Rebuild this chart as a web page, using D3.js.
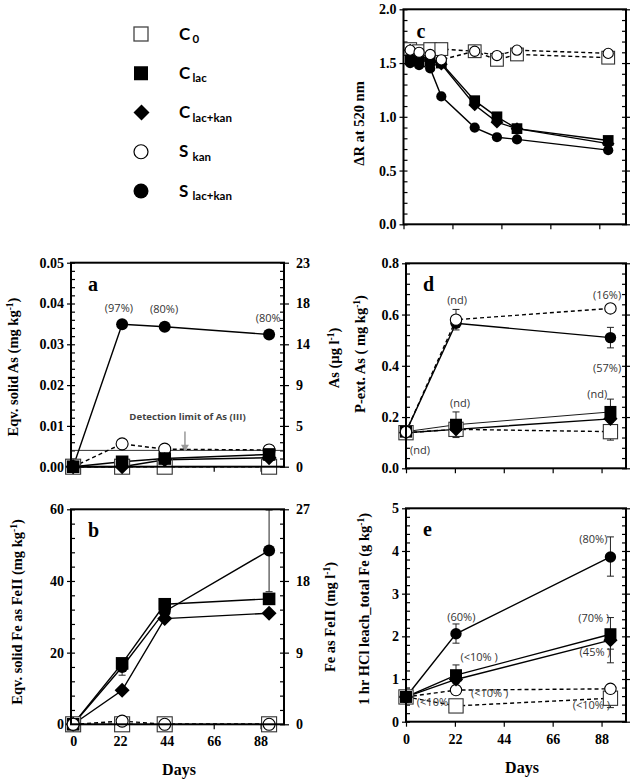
<!DOCTYPE html>
<html><head><meta charset="utf-8">
<script src="https://cdn.jsdelivr.net/npm/d3@7"></script>
<style>body{margin:0;background:#fff} svg{display:block}</style>
</head><body><svg id="chart" width="634" height="783"></svg>
<script>
// ---------------- DATA ----------------
const seriesKeys = ["C0","Clac","Clackan","Skan","Slackan"];
const legendMain = ["C","C","C","S","S"];
const legendSub  = ["0","lac","lac+kan","kan","lac+kan"];

// panel a : solid-phase As (mg/kg)
const daysAB = [0, 23, 43, 92];
const aC0      = [0, 0, 0, 0];
const aClac    = [0, 0.0012, 0.0020, 0.0030];
const aClackan = [0, 0.0000, 0.0017, 0.0022];
const aSkan    = [0, 0.0056, 0.0043, 0.0041];
const aSlackan = [0, 0.0349, 0.0343, 0.0324];
const aDetectionLimit = 0.004;
const aRightTicks = [0, 4.6, 9.2, 13.8, 18.4, 23];

// panel b : solid Fe as FeII (mg/kg)
const bC0      = [0, 0, 0, 0];
const bClac    = [0, 17.0, 33.5, 35.0];
const bClackan = [0, 9.5, 29.5, 31.0];
const bSkan    = [0, 0.9, 0, 0];
const bSlackan = [0, 16.0, 31.5, 48.5];
const bRightTicks = [0, 9, 18, 27];
const bErrors = [["Slackan", 1, 13.7, 18.2], ["Slackan", 3, 37.0, 59.8]];

// panel c : deltaR at 520 nm
const daysC = [3, 7, 12, 17, 32, 42, 51, 92];
const cC0      = [1.63, 1.61, 1.63, 1.63, 1.61, 1.53, 1.58, 1.55];
const cClac    = [1.53, 1.52, 1.52, 1.50, 1.15, 1.00, 0.89, 0.78];
const cClackan = [1.62, 1.55, 1.52, 1.49, 1.11, 0.95, 0.89, 0.75];
const cSkan    = [1.62, 1.60, 1.58, 1.53, 1.61, 1.57, 1.62, 1.59];
const cSlackan = [1.50, 1.48, 1.45, 1.19, 0.90, 0.81, 0.79, 0.69];
const cErrors = [["C0", 3, 1.58, 1.66], ["C0", 5, 1.48, 1.57]];

// panel d : P-extractable As (mg/kg)
const daysDE = [0, 22.5, 92];
const dC0      = [0.139, 0.152, 0.143];
const dClac    = [0.143, 0.170, 0.220];
const dClackan = [0.139, 0.152, 0.193];
const dSkan    = [0.142, 0.580, 0.624];
const dSlackan = [0.142, 0.566, 0.510];
const dErrors = [["Skan",1,0.54,0.62],["Slackan",2,0.47,0.55],["Clac",1,0.12,0.22],["Clac",2,0.17,0.27],["C0",2,0.11,0.18]];

// panel e : 1 hr HCl leach total Fe (g/kg)
const eC0      = [0.58, 0.37, 0.55];
const eClac    = [0.58, 1.09, 2.05];
const eClackan = [0.58, 0.99, 1.91];
const eSkan    = [0.58, 0.74, 0.77];
const eSlackan = [0.58, 2.06, 3.86];
const eErrors = [["Slackan",1,1.84,2.29],["Slackan",2,3.41,4.33],["Clac",1,0.9,1.33],["Clac",2,1.7,2.44],["Clackan",2,1.38,1.95],["C0",2,0.33,0.55]];

const xTickValues = [0, 22, 44, 66, 88];

// annotations: text, day, value (baseline centre)
const aNotes = [["(97%)",21.5,0.0379],["(80%)",42.7,0.0377],["(80%",91.6,0.0355]];
const dNotes = [["(nd)",23,0.641],["(16%)",90.5,0.661],["(57%)",90.5,0.376],["(nd)",24.3,0.239],["(nd)",86.1,0.274],["(nd)",6.3,0.054]];
const eNotes = [["(80%)",84.3,4.19],["(60%)",24.9,2.37],["(70% )",84.5,2.34],["(<10% )",32.9,1.43],["(45% )",85.1,1.55],["(<10% )",37.6,0.58],["(<10%",11.9,0.36],["(<10% )",83.4,0.30]];

// ---------------- BUILD ----------------
const svg = d3.select("#chart");
const serifFont = "'Liberation Serif','Times New Roman',serif";
const sansFont = "'Open Sans','Noto Sans',sans-serif";

function mk(vals){ const o={}; seriesKeys.forEach((k,i)=>o[k]=vals[i]); return o; }

const panels = [
 {id:"a", x0:71, x1:284, y0:262.7, y1:466.7, xdom:[-1,99], ydom:[0,0.05], major:0.01, minor:0.002, fmt:".2f",
  days:daysAB, data:mk([aC0,aClac,aClackan,aSkan,aSlackan]), errors:[], notes:aNotes, xlab:false,
  order:["C0","Skan","Slackan","Clackan","Clac"], right:{dom:[0,23], ticks:aRightTicks}, ms:1,
  title:["Eqv. solid As (mg kg","-1",")"], tx:13, ty:367, rtitle:["As (\u00b5g l","-1",")"], rtx:334, rty:358},
 {id:"b", x0:71, x1:284, y0:509.3, y1:724.3, xdom:[-1,99], ydom:[0,60], major:20, minor:4, fmt:"d",
  days:daysAB, data:mk([bC0,bClac,bClackan,bSkan,bSlackan]), errors:bErrors, notes:[], xlab:true,
  order:["C0","Clac","Clackan","Slackan","Skan"], right:{dom:[0,27], ticks:bRightTicks}, ms:1,
  title:["Eqv. solid Fe as FeII (mg kg","-1",")"], tx:17, ty:612, rtitle:["Fe as FeII (mg l","-1",")"], rtx:330, rty:617,
  daysX:179},
 {id:"c", x0:403.5, x1:626, y0:9.3, y1:224.3, xdom:[0,100], ydom:[0,2], major:0.5, minor:0.1, fmt:".1f",
  days:daysC, data:mk([cC0,cClac,cClackan,cSkan,cSlackan]), errors:cErrors, notes:[], xlab:false,
  order:["C0","Clac","Clackan","Slackan","Skan"], ms:0.85,
  title:["\u0394R at 520 nm"], tx:358.5, ty:123.5},
 {id:"d", x0:406, x1:626, y0:263.3, y1:468.3, xdom:[0,99], ydom:[0,0.8], major:0.2, minor:0.04, fmt:".1f",
  days:daysDE, data:mk([dC0,dClac,dClackan,dSkan,dSlackan]), errors:dErrors, notes:dNotes, xlab:false,
  order:["C0","Clac","Clackan","Slackan","Skan"], ms:0.95, thin:"Clac",
  title:["P-ext. As ( mg kg","-1",")"], tx:360, ty:354},
 {id:"e", x0:406, x1:626, y0:508.3, y1:721.7, xdom:[0,99], ydom:[0,5], major:1, minor:0.2, fmt:"d",
  days:daysDE, data:mk([eC0,eClac,eClackan,eSkan,eSlackan]), errors:eErrors, notes:eNotes, xlab:true,
  order:["C0","Skan","Slackan","Clackan","Clac"], ms:0.95,
  title:["1 hr HCl leach_total Fe (g kg","-1",")"], tx:363.5, ty:609, daysX:522}
];

function drawMarker(g, key, cx, cy, s){
  if(key==="C0"){
    const h=7.5*s; g.append("rect").attr("x",cx-h).attr("y",cy-h).attr("width",2*h).attr("height",2*h)
      .attr("fill","#fff").attr("stroke","#333").attr("stroke-width",1.1);
  } else if(key==="Clac"){
    const h=6.3*s; g.append("rect").attr("x",cx-h).attr("y",cy-h).attr("width",2*h).attr("height",2*h).attr("fill","#000");
  } else if(key==="Clackan"){
    const h=7.5*s; g.append("path").attr("d",`M${cx},${cy-h}L${cx+h},${cy}L${cx},${cy+h}L${cx-h},${cy}Z`).attr("fill","#000");
  } else if(key==="Skan"){
    g.append("circle").attr("cx",cx).attr("cy",cy).attr("r",6*s).attr("fill","#fff").attr("stroke","#000").attr("stroke-width",1.1);
  } else {
    g.append("circle").attr("cx",cx).attr("cy",cy).attr("r",6*s).attr("fill","#000");
  }
}

function rotTitle(parts, cx, cy){
  const t = svg.append("text").attr("transform",`translate(${cx},${cy}) rotate(-90)`)
    .attr("text-anchor","middle").attr("dy","0.35em")
    .attr("font-family",serifFont).attr("font-weight","bold").attr("font-size",14.5);
  t.append("tspan").text(parts[0]);
  if(parts.length>1){
    t.append("tspan").attr("dy",-5).attr("font-size",9.5).text(parts[1]);
    t.append("tspan").attr("dy",5).text(parts[2]);
  }
}

function styleAxis(g){
  g.select(".domain").remove();
  g.selectAll(".tick line").attr("stroke","#000").attr("stroke-width",1.2);
  g.selectAll(".tick text").attr("font-family",serifFont).attr("font-weight","bold").attr("font-size",14).attr("fill","#000");
}

panels.forEach(p=>{
  const x = d3.scaleLinear().domain(p.xdom).range([p.x0,p.x1]);
  const y = d3.scaleLinear().domain(p.ydom).range([p.y1,p.y0]);
  const majors = d3.range(p.ydom[0], p.ydom[1]+p.major/2, p.major);
  const minors = d3.range(p.ydom[0], p.ydom[1]+p.minor/2, p.minor);
  const g = svg.append("g");

  // left axis: outward majors with labels, inward all ticks
  const la = g.append("g").attr("transform",`translate(${p.x0},0)`)
    .call(d3.axisLeft(y).tickValues(majors).tickSize(4).tickPadding(3).tickFormat(d3.format(p.fmt)));
  styleAxis(la);
  styleAxis(g.append("g").attr("transform",`translate(${p.x0},0)`)
    .call(d3.axisLeft(y).tickValues(minors).tickSize(-4).tickFormat("")));
  // right axis
  styleAxis(g.append("g").attr("transform",`translate(${p.x1},0)`)
    .call(d3.axisRight(y).tickValues(minors).tickSize(-4).tickFormat("")));
  if(p.right){
    const yr = d3.scaleLinear().domain(p.right.dom).range([p.y1,p.y0]);
    styleAxis(g.append("g").attr("transform",`translate(${p.x1},0)`)
      .call(d3.axisRight(yr).tickValues(p.right.ticks).tickSize(5).tickPadding(7).tickFormat(d=>Math.round(d))));
    rotTitle(p.rtitle, p.rtx, p.rty);
  } else {
    styleAxis(g.append("g").attr("transform",`translate(${p.x1},0)`)
      .call(d3.axisRight(y).tickValues(majors).tickSize(4).tickFormat("")));
  }
  // bottom axis
  const ba = g.append("g").attr("transform",`translate(0,${p.y1})`)
    .call(d3.axisBottom(x).tickValues(xTickValues).tickSize(5).tickPadding(7).tickFormat(p.xlab? d3.format("d"): ""));
  styleAxis(ba);
  if(p.xlab){
    svg.append("text").attr("x",p.daysX).attr("y",p.y1+51).attr("text-anchor","middle")
      .attr("font-family",serifFont).attr("font-weight","bold").attr("font-size",16).text("Days");
  }
  rotTitle(p.title, p.tx, p.ty);

  // detection limit (panel a)
  if(p.id==="a"){
    g.append("line").attr("x1",p.x0).attr("x2",p.x1).attr("y1",y(aDetectionLimit)).attr("y2",y(aDetectionLimit))
      .attr("stroke","#333").attr("stroke-width",1);
    g.append("text").attr("x",x(53.7)).attr("y",y(0.01145)).attr("text-anchor","middle")
      .attr("font-family",sansFont).attr("font-weight","bold").attr("font-size",9.6).attr("fill","#444")
      .text("Detection limit of As (III)");
    const ax = x(52.5);
    g.append("line").attr("x1",ax).attr("x2",ax).attr("y1",y(0.0086)).attr("y2",y(0.0052))
      .attr("stroke","#999").attr("stroke-width",1.5);
    g.append("path").attr("d",`M${ax-4},${y(0.0054)}L${ax+4},${y(0.0054)}L${ax},${y(aDetectionLimit)+1}Z`).attr("fill","#999");
  }

  // lines
  const line = d3.line().x((d,i)=>x(p.days[i])).y(d=>y(d));
  p.order.forEach(k=>{
    const dashed = (k==="C0"||k==="Skan");
    g.append("path").datum(p.data[k]).attr("d",line).attr("fill","none").attr("stroke","#000")
      .attr("stroke-width", p.thin===k?0.9:1.4).attr("stroke-dasharray", dashed?"4,3":null);
  });
  // error bars
  p.errors.forEach(([k,i,lo,hi])=>{
    const cx = x(p.days[i]);
    const eg = g.append("g").attr("stroke","#222").attr("stroke-width",1);
    eg.append("line").attr("x1",cx).attr("x2",cx).attr("y1",y(lo)).attr("y2",y(hi));
    eg.append("line").attr("x1",cx-3.5).attr("x2",cx+3.5).attr("y1",y(lo)).attr("y2",y(lo));
    eg.append("line").attr("x1",cx-3.5).attr("x2",cx+3.5).attr("y1",y(hi)).attr("y2",y(hi));
  });
  // markers
  p.order.forEach(k=>{
    p.data[k].forEach((v,i)=>drawMarker(g,k,x(p.days[i]),y(v),p.ms));
  });
  // notes
  p.notes.forEach(([t,dx,dy])=>{
    g.append("text").attr("x",x(dx)).attr("y",y(dy)).attr("text-anchor","middle")
      .attr("font-family",sansFont).attr("font-size",11).attr("fill","#333").text(t);
  });
  // frame
  g.append("rect").attr("x",p.x0).attr("y",p.y0).attr("width",p.x1-p.x0).attr("height",p.y1-p.y0)
    .attr("fill","none").attr("stroke","#000").attr("stroke-width",2);
  // panel letter
  svg.append("text").attr("x",p.x0+ (p.id==="c"?13:17)).attr("y",p.y0+ (p.id==="c"?29:28))
    .attr("font-family",serifFont).attr("font-weight","bold").attr("font-size",20).text(p.id);
});

// legend
const legRowY = d3.scaleLinear().domain([0,4]).range([34,191]);
seriesKeys.forEach((k,i)=>{
  const cy = legRowY(i);
  const lg = svg.append("g");
  if(k==="C0"){
    lg.append("rect").attr("x",134).attr("y",cy-7).attr("width",14).attr("height",14).attr("fill","#fff").attr("stroke","#444").attr("stroke-width",1.3);
  } else if(k==="Clac"){
    lg.append("rect").attr("x",134).attr("y",cy-7).attr("width",14).attr("height",14).attr("fill","#000");
  } else if(k==="Clackan"){
    lg.append("path").attr("d",`M141.5,${cy-8}L149.5,${cy}L141.5,${cy+8}L133.5,${cy}Z`).attr("fill","#000");
  } else if(k==="Skan"){
    lg.append("circle").attr("cx",141).attr("cy",cy).attr("r",7).attr("fill","#fff").attr("stroke","#000").attr("stroke-width",1.2);
  } else {
    lg.append("circle").attr("cx",141).attr("cy",cy).attr("r",7.5).attr("fill","#000");
  }
  lg.append("text").attr("x",179).attr("y",cy+5.5).attr("font-family","Lato, 'Open Sans', sans-serif")
    .attr("font-weight","bold").attr("font-size",17).text(legendMain[i]);
  lg.append("text").attr("x",192.5).attr("y",cy+9.2).attr("font-family","Lato, 'Open Sans', sans-serif")
    .attr("font-weight","bold").attr("font-size",11.5).text(legendSub[i]);
});
</script>
</body></html>
